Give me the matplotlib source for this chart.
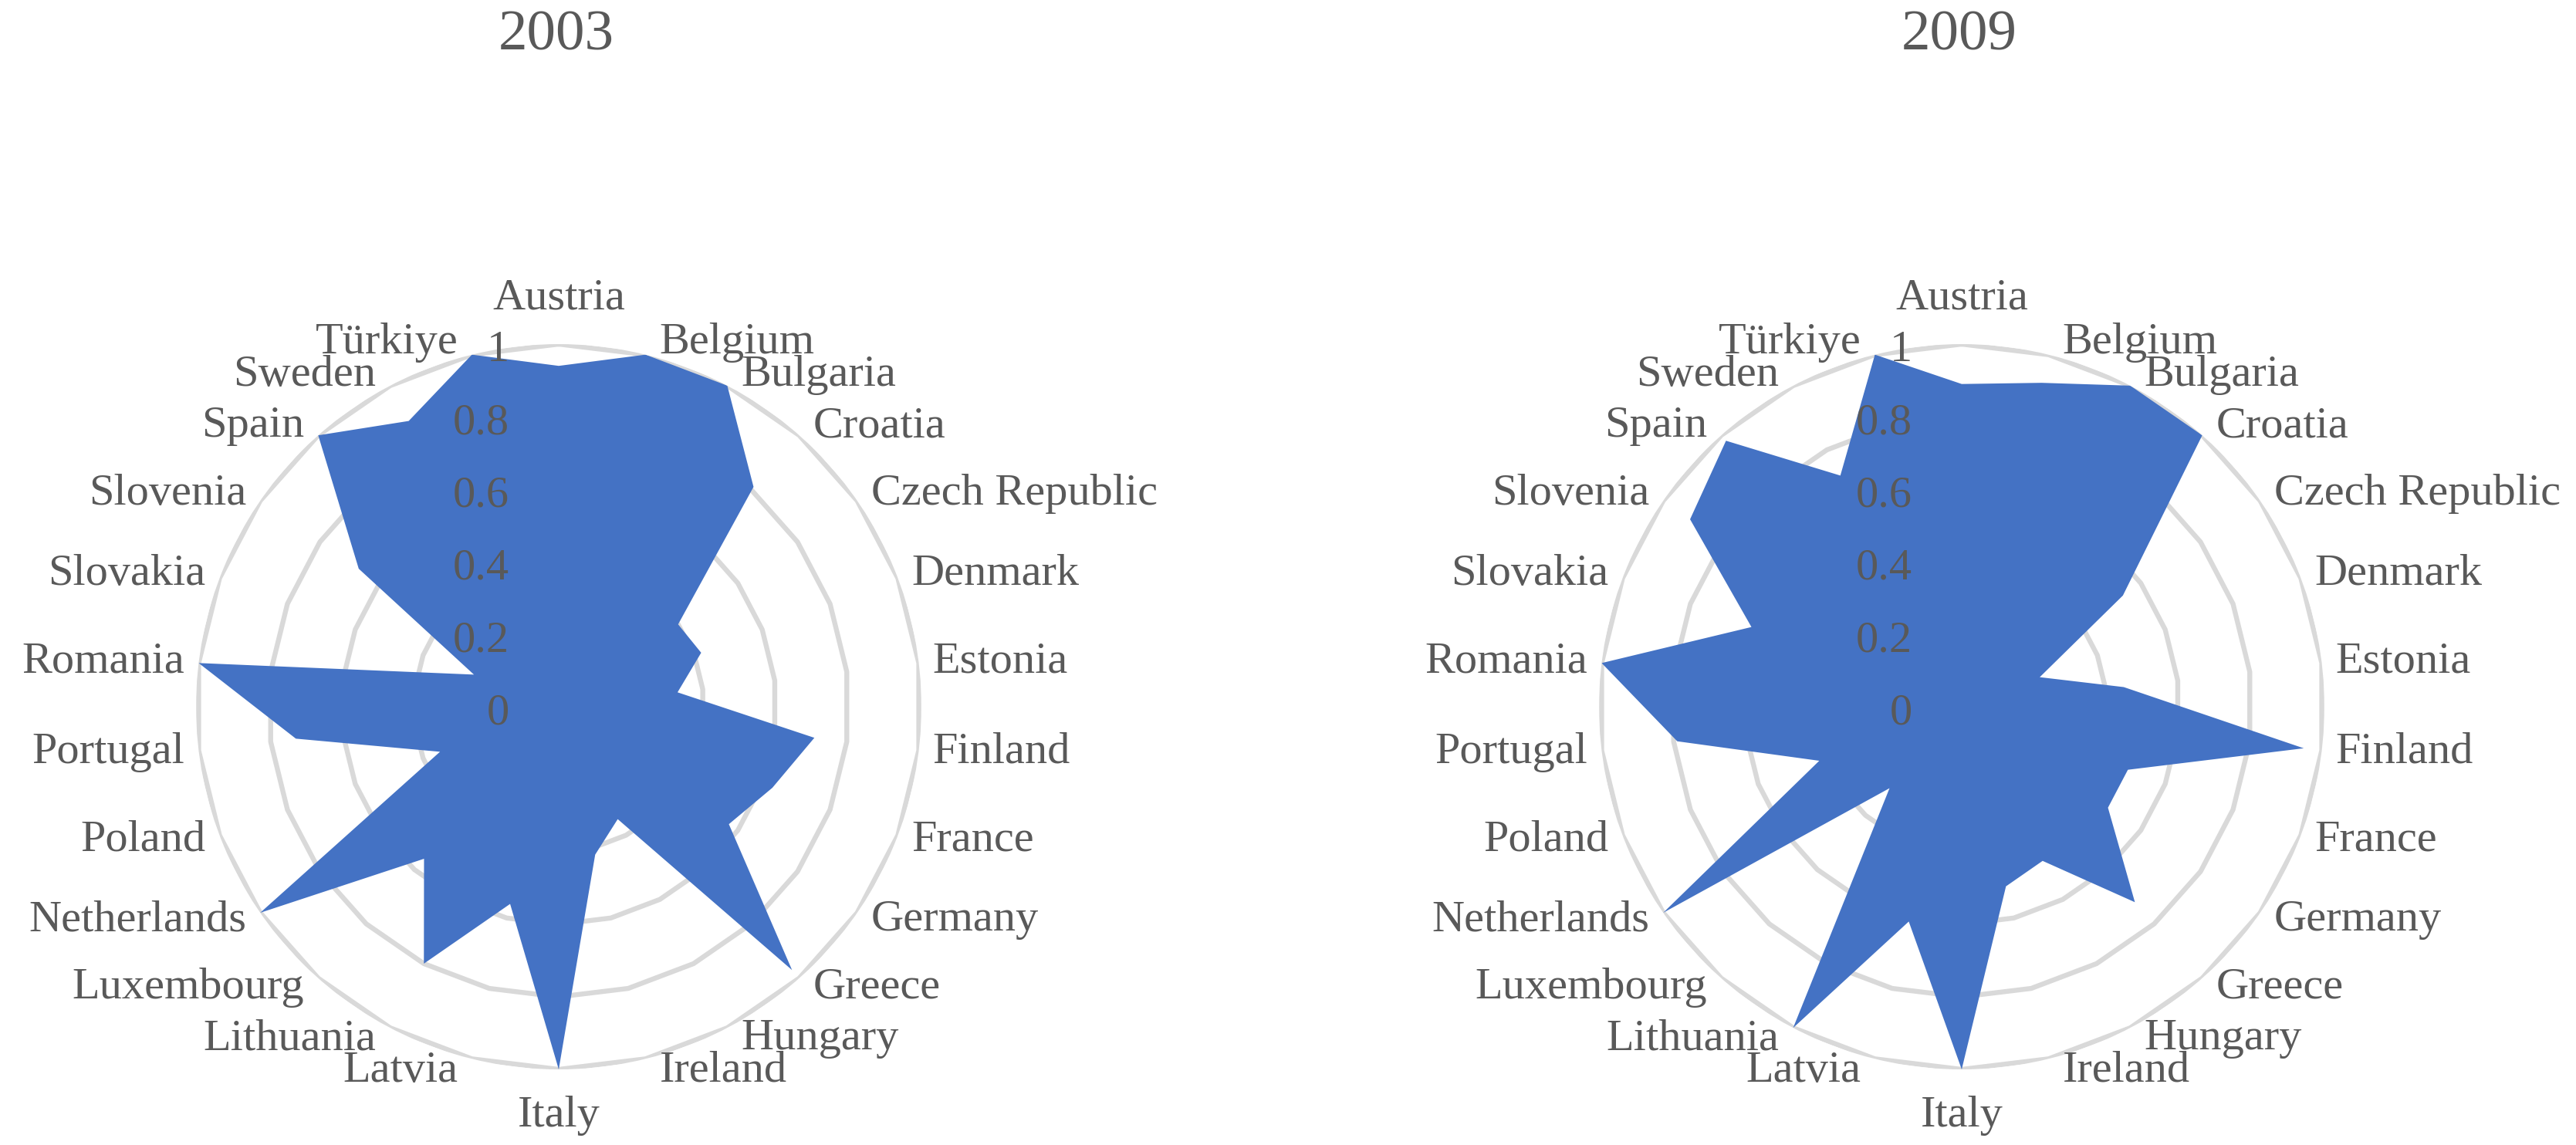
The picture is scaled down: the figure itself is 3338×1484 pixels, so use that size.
import numpy as np
import matplotlib
matplotlib.use("Agg")
import matplotlib.pyplot as plt

countries = ["Austria", "Belgium", "Bulgaria", "Croatia", "Czech Republic", "Denmark",
             "Estonia", "Finland", "France", "Germany", "Greece", "Hungary", "Ireland",
             "Italy", "Latvia", "Lithuania", "Luxembourg", "Netherlands", "Poland",
             "Portugal", "Romania", "Slovakia", "Slovenia", "Spain", "Sweden", "Türkiye"]

values_2003 = [0.94, 1.0, 1.0, 0.81, 0.40, 0.42, 0.33, 0.71, 0.63, 0.57, 0.97, 0.35, 0.42,
               1.0, 0.56, 0.80, 0.56, 1.0, 0.35, 0.73, 1.0, 0.25, 0.67, 1.0, 0.89, 1.0]
values_2009 = [0.89, 0.92, 1.0, 1.0, 0.54, 0.23, 0.45, 0.95, 0.49, 0.49, 0.72, 0.48, 0.51,
               1.0, 0.61, 1.0, 0.30, 1.0, 0.42, 0.79, 1.0, 0.62, 0.91, 0.98, 0.72, 1.0]

years = ["2003", "2009"]
ring_levels = [0.2, 0.4, 0.6, 0.8, 1.0]
tick_labels = ["0", "0.2", "0.4", "0.6", "0.8", "1"]

FILL = "#4472C4"
GRID = "#D9D9D9"
TXT = "#595959"
FONT = "Liberation Serif"

fig = plt.figure(figsize=(16.69, 7.42), dpi=200)

n = len(countries)
theta = np.linspace(0, 2 * np.pi, n, endpoint=False)
theta_c = np.append(theta, theta[0])

centers_x = [724 / 3338, 2542 / 3338]
cy = 1 - 916 / 1484
rw = 470 / 3338
rh = 470 / 1484

for i, vals in enumerate([values_2003, values_2009]):
    ax = fig.add_axes([centers_x[i] - rw, cy - rh, 2 * rw, 2 * rh], projection="polar")
    ax.set_theta_zero_location("N")
    ax.set_theta_direction(-1)
    ax.set_ylim(0, 1)
    ax.grid(False)
    ax.spines["polar"].set_visible(False)
    ax.set_xticks([])
    ax.set_yticks([])
    ax.patch.set_alpha(0)

    # polygon rings
    for r in ring_levels:
        ax.plot(theta_c, [r] * (n + 1), color=GRID, lw=2.3, zorder=1)

    v = np.append(vals, vals[0])
    ax.fill(theta_c, v, color=FILL, lw=0, zorder=2)

    # radial tick labels
    for r, lab in zip([0] + ring_levels, tick_labels):
        ax.annotate(lab, xy=(0, r), xytext=(-23, -3), textcoords="offset points",
                    ha="right", va="center", fontsize=21, color=TXT,
                    family=FONT, zorder=5, annotation_clip=False)

    # category labels
    for t, name in zip(theta, countries):
        s, c = np.sin(t), np.cos(t)
        if abs(s) < 0.05:
            ha = "center"
            off = (0, 21.5 * np.sign(c))
        else:
            ha = "left" if s > 0 else "right"
            off = (6.5 * np.sign(s), 5.8 * c)
        ax.annotate(name, xy=(t, 1.0), xytext=off, textcoords="offset points",
                    ha=ha, va="center", fontsize=21, color=TXT, family=FONT,
                    annotation_clip=False)

    fig.text(centers_x[i] - 0.001, 1 - 47 / 1484, years[i], ha="center", va="center",
             fontsize=27, color=TXT, family=FONT)

fig.savefig("out.png", dpi=200, facecolor="white")
